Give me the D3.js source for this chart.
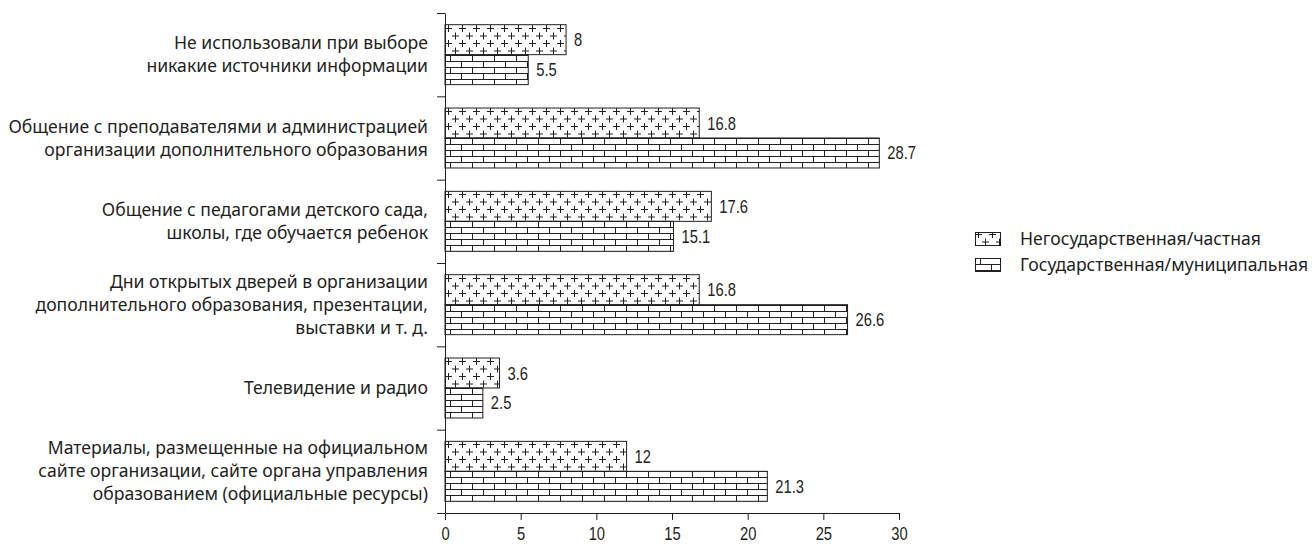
<!DOCTYPE html>
<html>
<head>
<meta charset="utf-8">
<script src="https://cdn.jsdelivr.net/npm/d3@7"></script>
<style>
  body { margin: 0; background: #fff; }
  .lbl { font-family: "Noto Sans", sans-serif; font-size: 17.6px; fill: #231f20; }
  .num { font-family: "Liberation Sans", Arial, sans-serif; font-size: 18px; fill: #231f20; }
  .axis text { font-family: "Liberation Sans", Arial, sans-serif; font-size: 18px; fill: #231f20; }
  .axis path, .axis line { stroke: #231f20; }
</style>
</head>
<body>
<svg id="chart" width="1316" height="544"></svg>
<script>
// categories top to bottom
var categories = [
  ['Не использовали при выборе', 'никакие источники информации'],
  ['Общение с преподавателями и администрацией', 'организации дополнительного образования'],
  ['Общение с педагогами детского сада,', 'школы, где обучается ребенок'],
  ['Дни открытых дверей в организации', 'дополнительного образования, презентации,', 'выставки и т. д.'],
  ['Телевидение и радио'],
  ['Материалы, размещенные на официальном', 'сайте организации, сайте органа управления', 'образованием (официальные ресурсы)']
];
var seriesNames = ['Негосударственная/частная', 'Государственная/муниципальная'];
var privateVals = [8, 16.8, 17.6, 16.8, 3.6, 12];
var publicVals = [5.5, 28.7, 15.1, 26.6, 2.5, 21.3];
var xTicks = [0, 5, 10, 15, 20, 25, 30];

var narrow = 0.82; // squeeze for the condensed numerals

var svg = d3.select('#chart');
var defs = svg.append('defs');

var x = d3.scaleLinear().domain([0, 30]).range([445, 899]);
var y = d3.scaleBand().domain(d3.range(categories.length)).range([13, 513]);
var yEdge = d3.scaleLinear().domain([0, categories.length]).range([13, 513]);
var sub = d3.scaleBand().domain([0, 1]).range([0, y.bandwidth()]).paddingInner(0).paddingOuter(0.39);

// patterns (one per bar so the texture starts at the bar top)
function plusPattern(id, left, top) {
  var p = defs.append('pattern').attr('id', id)
    .attr('patternUnits', 'userSpaceOnUse')
    .attr('x', left).attr('y', Math.round(top)).attr('width', 14).attr('height', 15);
  p.append('rect').attr('width', 14).attr('height', 15).attr('fill', '#fff');
  [[3.5, 3.5], [10.5, 11]].forEach(function(c) {
    p.append('path')
      .attr('d', 'M' + (c[0] - 3.5) + ',' + c[1] + 'h7M' + c[0] + ',' + (c[1] - 3.5) + 'v7')
      .attr('stroke', '#231f20').attr('stroke-width', 1).attr('fill', 'none');
  });
}
function brickPattern(id, left, top) {
  var p = defs.append('pattern').attr('id', id)
    .attr('patternUnits', 'userSpaceOnUse')
    .attr('x', left).attr('y', Math.round(top)).attr('width', 22).attr('height', 12);
  p.append('rect').attr('width', 22).attr('height', 12).attr('fill', '#fff');
  p.append('path')
    .attr('d', 'M0,0.5h22M0,6.5h22M5.5,0v6M16.5,6v6')
    .attr('stroke', '#231f20').attr('stroke-width', 1).attr('fill', 'none');
}

// bars
var bars = [];
categories.forEach(function(c, i) {
  bars.push({ i: i, s: 0, v: privateVals[i] });
  bars.push({ i: i, s: 1, v: publicVals[i] });
});
bars.forEach(function(b) {
  b.y = y(b.i) + sub(b.s);
  b.id = 'pat' + b.i + '_' + b.s;
  if (b.s == 0) plusPattern(b.id, 445, b.y); else brickPattern(b.id, 445, b.y);
});

svg.append('g').selectAll('rect')
  .data(bars)
  .enter()
  .append('rect')
  .attr('x', x(0))
  .attr('y', function(d) { return d.y; })
  .attr('width', function(d) { return x(d.v) - x(0); })
  .attr('height', sub.bandwidth())
  .attr('fill', function(d) { return 'url(#' + d.id + ')'; })
  .attr('stroke', '#231f20')
  .attr('stroke-width', 1);

svg.append('g').selectAll('text')
  .data(bars)
  .enter()
  .append('text')
  .attr('class', 'num')
  .attr('transform', function(d) {
    return 'translate(' + (x(d.v) + 8) + ',' + (d.y + sub.bandwidth() / 2) + ') scale(' + narrow + ',1)';
  })
  .attr('dy', '0.36em')
  .text(function(d) { return d.v; });

// axes
svg.append('g').attr('class', 'axis')
  .attr('transform', 'translate(0,513)')
  .call(d3.axisBottom(x).tickValues(xTicks).tickSize(7).tickSizeOuter(0).tickPadding(5))
  .call(function(g) {
    g.selectAll('text').attr('dy', '0.85em').attr('transform', 'scale(' + narrow + ',1)');
  });

svg.append('g').attr('class', 'axis')
  .attr('transform', 'translate(445,0)')
  .call(d3.axisLeft(yEdge).tickValues(d3.range(categories.length + 1)).tickFormat('').tickSize(8).tickSizeOuter(0));

// category labels
var lineH = 23;
categories.forEach(function(lines, i) {
  var cy = y(i) + y.bandwidth() / 2;
  var t = svg.append('text').attr('class', 'lbl').attr('text-anchor', 'end');
  lines.forEach(function(l, k) {
    t.append('tspan')
      .attr('x', 428)
      .attr('y', cy + (k - (lines.length - 1) / 2) * lineH)
      .attr('dy', '0.35em')
      .text(l);
  });
});

// legend
var leg = svg.append('g');
seriesNames.forEach(function(n, k) {
  var ly = 232 + k * 26;
  if (k == 0) plusPattern('legPat0', 975, ly - 1); else brickPattern('legPat1', 975, ly);
  leg.append('rect')
    .attr('x', 975.5).attr('y', ly + 0.5).attr('width', 25).attr('height', 13)
    .attr('fill', 'url(#legPat' + k + ')')
    .attr('stroke', '#231f20');
  leg.append('text').attr('class', 'lbl')
    .attr('x', 1020).attr('y', ly + 7).attr('dy', '0.35em')
    .text(n);
});
</script>
</body>
</html>
